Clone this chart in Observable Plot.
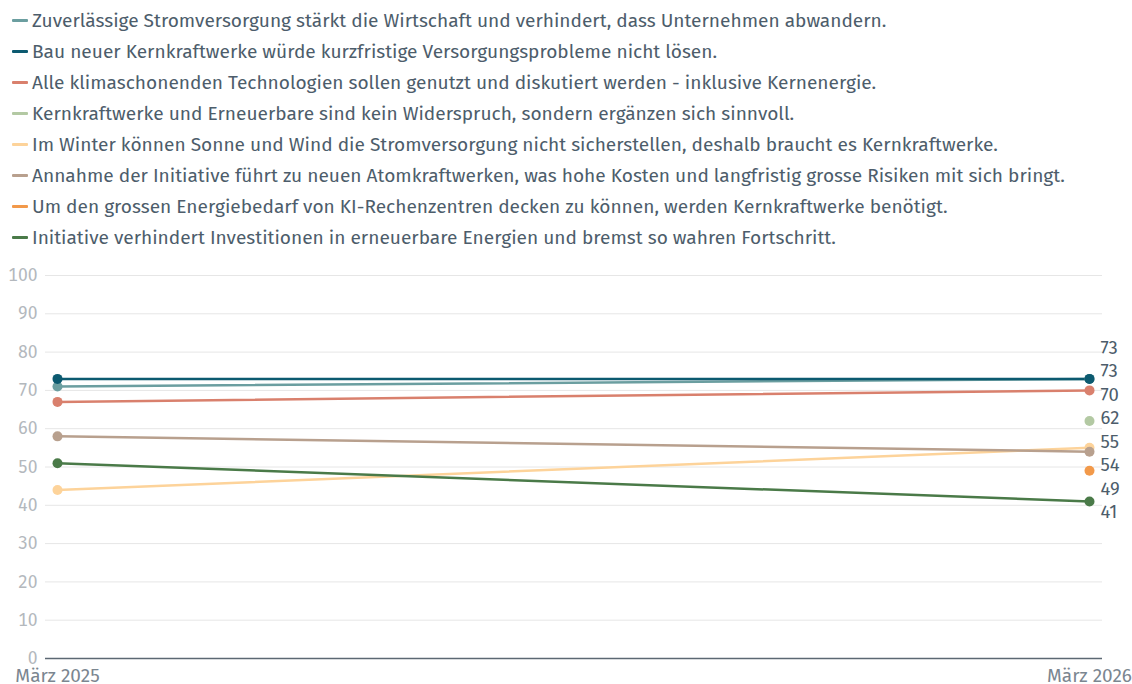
<!DOCTYPE html>
<html>
<head>
<meta charset="utf-8">
<script src="https://cdn.jsdelivr.net/npm/d3@7"></script>
<script src="https://cdn.jsdelivr.net/npm/@observablehq/plot@0.6"></script>
<style>
  html, body { margin: 0; padding: 0; background: #fff; }
  body { width: 1132px; height: 684px; overflow: hidden; font-family: "Fira Sans", "Noto Sans", sans-serif; }
  #legend { padding-top: 5px; height: 253px; box-sizing: border-box; }
  .row { height: 31px; line-height: 31px; font-size: 19.1px; color: #4d5d6b; white-space: nowrap; display: flex; align-items: center; }
  .sw { display: inline-block; width: 16px; height: 2.5px; margin-left: 12px; margin-right: 4px; border-radius: 1px; }
</style>
</head>
<body>
<div id="legend"></div>
<div id="chart"></div>
<script>
const series = [
  "Zuverlässige Stromversorgung stärkt die Wirtschaft und verhindert, dass Unternehmen abwandern.",
  "Bau neuer Kernkraftwerke würde kurzfristige Versorgungsprobleme nicht lösen.",
  "Alle klimaschonenden Technologien sollen genutzt und diskutiert werden - inklusive Kernenergie.",
  "Kernkraftwerke und Erneuerbare sind kein Widerspruch, sondern ergänzen sich sinnvoll.",
  "Im Winter können Sonne und Wind die Stromversorgung nicht sicherstellen, deshalb braucht es Kernkraftwerke.",
  "Annahme der Initiative führt zu neuen Atomkraftwerken, was hohe Kosten und langfristig grosse Risiken mit sich bringt.",
  "Um den grossen Energiebedarf von KI-Rechenzentren decken zu können, werden Kernkraftwerke benötigt.",
  "Initiative verhindert Investitionen in erneuerbare Energien und bremst so wahren Fortschritt."
];
const colors = ["#6b9ea0", "#0c5a70", "#d9806d", "#b3c9a3", "#fdd39a", "#b8a08e", "#f2994a", "#4a7a48"];
const periods = ["März 2025", "März 2026"];
const values2025 = [71, 73, 67, null, 44, 58, null, 51];
const values2026 = [73, 73, 70, 62, 55, 54, 49, 41];
const yTicks = [0, 10, 20, 30, 40, 50, 60, 70, 80, 90, 100];

// legend
const legend = document.getElementById("legend");
series.forEach((s, i) => {
  const row = document.createElement("div");
  row.className = "row";
  const sw = document.createElement("span");
  sw.className = "sw";
  sw.style.background = colors[i];
  row.appendChild(sw);
  const t = document.createElement("span");
  t.textContent = s;
  row.appendChild(t);
  legend.appendChild(row);
});

// data
const rows = [];
series.forEach((s, i) => {
  if (values2025[i] != null) rows.push({series: s, period: periods[0], value: values2025[i]});
  if (values2026[i] != null) rows.push({series: s, period: periods[1], value: values2026[i]});
});

// layout
const W = 1132, H = 431, mT = 22, mB = 26, mL = 45, mR = 30;
const pxPerUnit = (H - mT - mB) / 100;

// dodge end labels (in data units)
const gap = 23.5 / pxPerUnit;
const labels = series.map((s, i) => ({series: s, value: values2026[i], pos: values2026[i], idx: i}))
  .sort((a, b) => b.value - a.value || a.idx - b.idx);
for (let it = 0; it < 300; it++) {
  for (let k = 1; k < labels.length; k++) {
    const d = labels[k - 1].pos - labels[k].pos;
    if (d < gap) {
      const push = (gap - d) / 2;
      labels[k - 1].pos += push;
      labels[k].pos -= push;
    }
  }
}
labels.forEach(l => l.period = periods[1]);

const chart = Plot.plot({
  width: W, height: H,
  marginTop: mT, marginBottom: mB, marginLeft: mL, marginRight: mR,
  insetLeft: 12, insetRight: 13,
  style: {fontFamily: '"Fira Sans", "Noto Sans", sans-serif', background: "#fff", overflow: "visible"},
  x: {type: "point", domain: periods, padding: 0, label: null},
  y: {domain: [0, 100], label: null},
  color: {domain: series, range: colors},
  marks: [
    Plot.ruleY(yTicks.filter(d => d > 0), {stroke: "#e6e6e6", strokeWidth: 1}),
    Plot.ruleY([0], {stroke: "#5c6873", strokeWidth: 1.3}),
    Plot.axisY(yTicks, {tickSize: 0, tickPadding: 8, fontSize: 17.5, fill: "#b3b8bd", label: null}),
    Plot.axisX({tickSize: 0, tickPadding: 10, fontSize: 19, fill: "#7b8690", label: null}),
    Plot.line(rows, {x: "period", y: "value", z: "series", stroke: "series", strokeWidth: 2.5}),
    Plot.dot(rows, {x: "period", y: "value", fill: "series", r: 5}),
    Plot.text(labels, {x: "period", y: "pos", text: d => String(d.value), dx: 11, textAnchor: "start", fontSize: 18.5, fill: "#4d5d6b"})
  ]
});
document.getElementById("chart").appendChild(chart);
</script>
</body>
</html>
